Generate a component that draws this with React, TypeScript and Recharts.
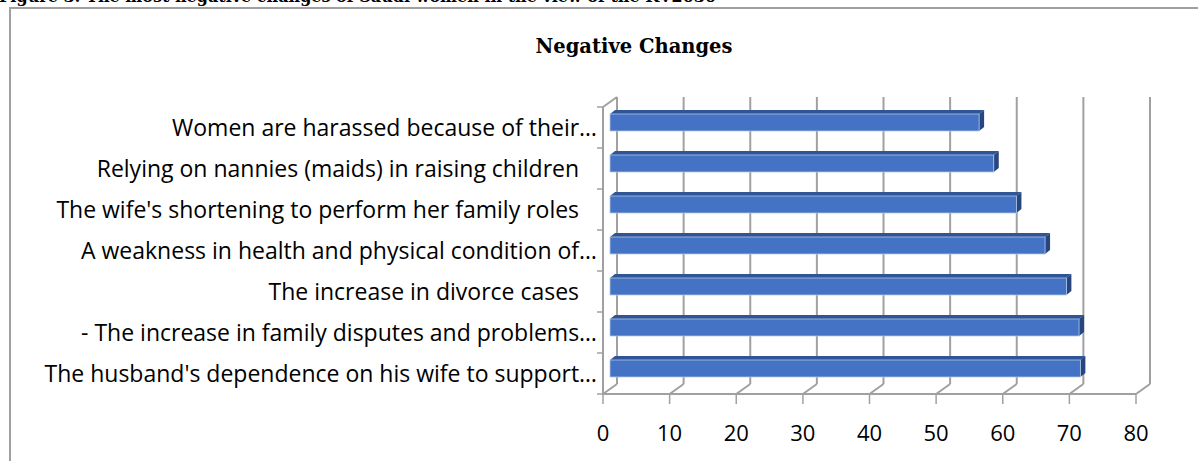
import { Bar, BarChart, CartesianGrid, XAxis, YAxis } from "recharts";

const categories = [
  "Women are harassed because of their…",
  "Relying on nannies (maids) in raising children   ",
  "The wife's shortening to perform her family roles   ",
  "A weakness in health and physical condition of…",
  "The increase in divorce cases   ",
  "- The increase in family disputes and problems…",
  "The husband's dependence on his wife to support…",
];
const values = [55.4, 57.6, 61.0, 65.3, 68.5, 70.4, 70.6];
const xTicks = [0, 10, 20, 30, 40, 50, 60, 70, 80];

const data = categories.map((name, i) => ({ name, value: values[i] }));

// chart geometry (3D wall depth and plot box)
const W = 1198;
const H = 461;
const MARGIN = { top: 107, right: 62, bottom: 27, left: 0 };
const Y_AXIS_W = 603;
const X_AXIS_H = 40;
const PLOT_BOTTOM = H - MARGIN.bottom - X_AXIS_H;
const PLOT_H = PLOT_BOTTOM - MARGIN.top;
const DX = 14;
const DY = 10;
const GRAY = "#a0a0a0";
const FONT = "'Open Sans', Lato, sans-serif";

// the scale object differs between recharts builds
function scaleOf(axis: any, offset: any, t: number) {
  const s = axis && axis.scale;
  if (typeof s === "function") return s(t);
  if (s && typeof s.map === "function") return s.map(t);
  const max = xTicks[xTicks.length - 1];
  return offset.left + (t / max) * offset.width;
}

function XTick(props: any) {
  const { x, y, payload } = props;
  return (
    <g>
      <line x1={x} y1={y} x2={x} y2={y + 10} stroke={GRAY} strokeWidth={1.5} />
      <line x1={x} y1={y} x2={x + DX} y2={y - DY} stroke={GRAY} strokeWidth={2} />
      <text x={x} y={y + 47} textAnchor="middle" fontSize={22} fontFamily={FONT} fill="#000">
        {payload.value}
      </text>
    </g>
  );
}

function YTick(props: any) {
  const { x, y, payload, index } = props;
  const band = PLOT_H / categories.length;
  const top = y - band / 2;
  return (
    <g>
      <line x1={x - 6} y1={top} x2={x} y2={top} stroke={GRAY} strokeWidth={1.5} />
      {index === categories.length - 1 && (
        <line x1={x - 6} y1={top + band} x2={x} y2={top + band} stroke={GRAY} strokeWidth={1.5} />
      )}
      {index === 0 && (
        <line x1={x} y1={top} x2={x + DX} y2={top - DY} stroke={GRAY} strokeWidth={2} />
      )}
      <text
        x={x - 6}
        y={y}
        dy="0.36em"
        textAnchor="end"
        fontSize={23}
        fontFamily={FONT}
        fill="#000"
        style={{ whiteSpace: "pre" }}
      >
        {payload.value}
      </text>
    </g>
  );
}

function Bar3D(props: any) {
  const { x, y, width, height } = props;
  const bx = x + DX / 2;
  const by = y - DY / 2;
  const d = 5;
  const e = 4;
  return (
    <g>
      <polygon
        points={`${bx},${by} ${bx + d},${by - e} ${bx + width + d},${by - e} ${bx + width},${by}`}
        fill="#2f5597"
      />
      <polygon
        points={`${bx + width},${by} ${bx + width + d},${by - e} ${bx + width + d},${by + height - e} ${bx + width},${by + height}`}
        fill="#27467f"
      />
      <rect x={bx} y={by} width={width} height={height} fill="#4472c4" stroke="#b4c7e7" strokeWidth={0.8} />
    </g>
  );
}

export default function App() {
  return (
    <div
      style={{
        position: "absolute",
        left: 0,
        top: 0,
        width: W,
        height: H,
        overflow: "hidden",
        background: "#fff",
      }}
    >
      <div
        style={{
          position: "absolute",
          left: -1,
          top: -11,
          fontFamily: "'DejaVu Serif', serif",
          fontWeight: "bold",
          fontSize: 16,
          lineHeight: "16px",
          whiteSpace: "nowrap",
        }}
      >
        Figure 3: The most negative changes of Saudi women in the view of the KV2030
      </div>
      <div
        style={{
          position: "absolute",
          left: 9,
          top: 7,
          width: 1400,
          height: 700,
          borderLeft: `2px solid ${GRAY}`,
          borderTop: `2px solid ${GRAY}`,
        }}
      />
      <div
        style={{
          position: "absolute",
          left: 434,
          top: 35,
          width: 400,
          textAlign: "center",
          fontFamily: "'DejaVu Serif', serif",
          fontWeight: "bold",
          fontSize: 19.5,
          lineHeight: "24px",
        }}
      >
        Negative Changes
      </div>
      <div style={{ position: "absolute", left: 0, top: 0 }}>
        <BarChart width={W} height={H} data={data} layout="vertical" margin={MARGIN} barSize={17}>
          <CartesianGrid
            horizontal={false}
            stroke={GRAY}
            strokeWidth={2}
            y={MARGIN.top - DY}
            height={PLOT_H}
            verticalCoordinatesGenerator={({ xAxis, offset }: any) =>
              xTicks.map((t) => scaleOf(xAxis, offset, t) + DX)
            }
          />
          <XAxis
            type="number"
            domain={[0, 80]}
            ticks={xTicks}
            height={X_AXIS_H}
            tickSize={0}
            tickMargin={0}
            tickLine={false}
            axisLine={{ stroke: GRAY, strokeWidth: 2 }}
            tick={<XTick />}
            interval={0}
          />
          <YAxis
            type="category"
            dataKey="name"
            width={Y_AXIS_W}
            tickSize={0}
            tickMargin={0}
            tickLine={false}
            axisLine={{ stroke: GRAY, strokeWidth: 2 }}
            tick={<YTick />}
            interval={0}
          />
          <Bar dataKey="value" shape={<Bar3D />} isAnimationActive={false} />
        </BarChart>
      </div>
    </div>
  );
}
